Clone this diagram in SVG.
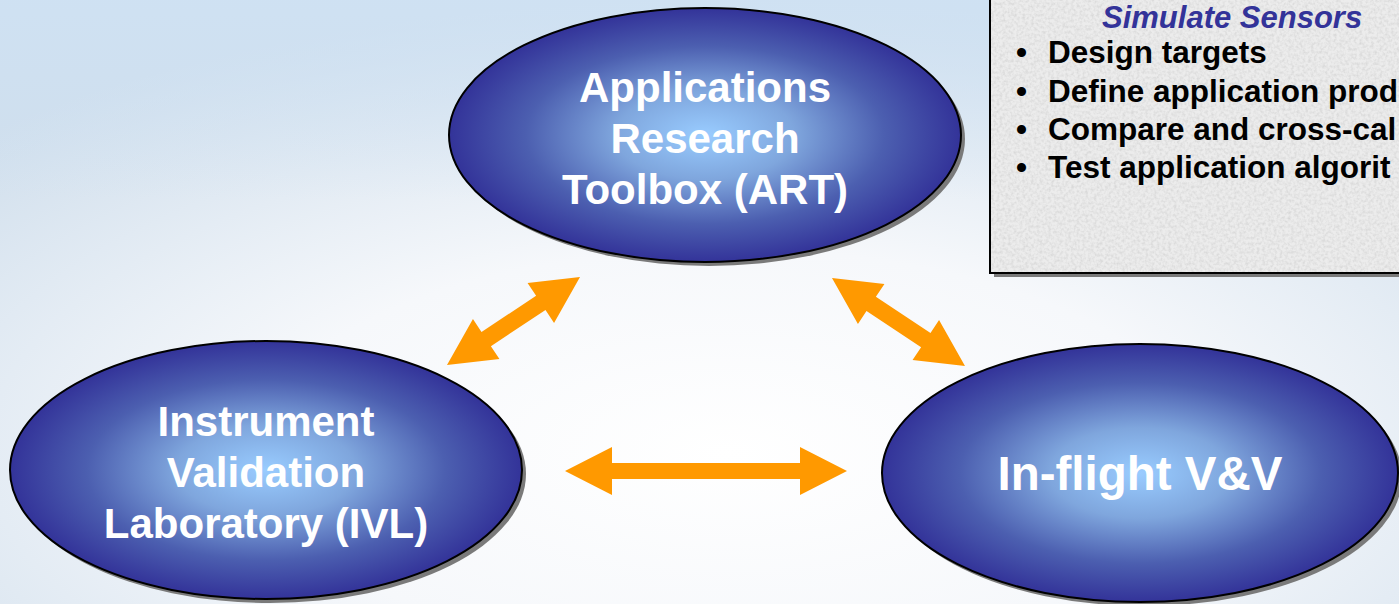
<svg xmlns="http://www.w3.org/2000/svg" width="1399" height="604" viewBox="0 0 1399 604">
<style>
.lbl{font-family:"Liberation Sans",Arial,sans-serif;font-weight:bold;fill:#ffffff;text-anchor:middle}
.bul{font-family:"Liberation Sans",Arial,sans-serif;font-weight:bold;fill:#000000;font-size:31.5px}
.ttl{font-family:"Liberation Sans",Arial,sans-serif;font-weight:bold;font-style:italic;fill:#333399;font-size:31px}
.ell{fill:url(#eg);stroke:#000;stroke-width:2}
.shd{fill:#7a7a7a}
.arr{fill:#FF9900}
</style>
<defs>
<radialGradient id="bg" cx="0.52" cy="0.75" r="0.75">
<stop offset="0" stop-color="#ffffff"/>
<stop offset="0.45" stop-color="#f6f8fb"/>
<stop offset="1" stop-color="#cfdeec"/>
</radialGradient>
<linearGradient id="topband" x1="0" y1="0" x2="0" y2="1">
<stop offset="0" stop-color="#cfe2f4" stop-opacity="0.8"/>
<stop offset="1" stop-color="#cfe2f4" stop-opacity="0"/>
</linearGradient>
<radialGradient id="eg" cx="0.5" cy="0.5" r="0.5">
<stop offset="0" stop-color="#99ccff"/>
<stop offset="0.35" stop-color="#7fa6dd"/>
<stop offset="0.7" stop-color="#4c5fb0"/>
<stop offset="1" stop-color="#333399"/>
</radialGradient>
<filter id="noise" x="0" y="0" width="1" height="1">
<feTurbulence type="fractalNoise" baseFrequency="0.35" numOctaves="2" seed="3"/>
<feColorMatrix type="matrix" values="0 0 0 0 0.55  0 0 0 0 0.55  0 0 0 0 0.55  0 0 0 1.6 -0.6"/>
<feComposite in2="SourceGraphic" operator="in"/>
</filter>
<polygon id="a160" points="0,0 47,-24 47,-8.5 112.5,-8.5 112.5,-24 159.5,0 112.5,24 112.5,8.5 47,8.5 47,24"/>
</defs>
<rect x="0" y="0" width="1399" height="604" fill="url(#bg)"/>
<rect x="0" y="0" width="1399" height="200" fill="url(#topband)"/>

<g id="box-simulate">
<rect x="994" y="-4" width="420" height="281" class="shd"/>
<rect x="990" y="-8" width="420" height="281" fill="#ececec" stroke="#000" stroke-width="2"/>
<rect x="991" y="-7" width="408" height="279" fill="#ffffff" filter="url(#noise)" opacity="0.6"/>
<text class="ttl" x="1102" y="28">Simulate Sensors</text>
<text class="bul" x="1016" y="63">•</text><text class="bul" x="1048" y="63">Design targets</text>
<text class="bul" x="1016" y="102">•</text><text class="bul" x="1048" y="102">Define application prod</text>
<text class="bul" x="1016" y="140">•</text><text class="bul" x="1048" y="140">Compare and cross-cal</text>
<text class="bul" x="1016" y="178">•</text><text class="bul" x="1048" y="178">Test application algorit</text>
</g>

<g id="node-art">
<ellipse cx="709" cy="139" rx="256" ry="127" class="shd"/>
<ellipse cx="705" cy="135" rx="256" ry="127" class="ell"/>
<text class="lbl" x="705" y="102" font-size="42">Applications</text>
<text class="lbl" x="705" y="153" font-size="42">Research</text>
<text class="lbl" x="705" y="204" font-size="42">Toolbox (ART)</text>
</g>

<g id="node-ivl">
<ellipse cx="270" cy="474" rx="256" ry="129" class="shd"/>
<ellipse cx="266" cy="470" rx="256" ry="129" class="ell"/>
<text class="lbl" x="266" y="436" font-size="42">Instrument</text>
<text class="lbl" x="266" y="487" font-size="42">Validation</text>
<text class="lbl" x="266" y="538" font-size="42">Laboratory (IVL)</text>
</g>

<g id="node-inflight">
<ellipse cx="1144" cy="477" rx="258" ry="129" class="shd"/>
<ellipse cx="1140" cy="473" rx="258" ry="129" class="ell"/>
<text class="lbl" x="1140" y="490" font-size="47.5">In-flight V&amp;V</text>
</g>

<g id="connectors">
<use href="#a160" class="arr" transform="translate(447,365) rotate(-33.5)"/>
<use href="#a160" class="arr" transform="translate(965,366) rotate(-146.5)"/>
<polygon class="arr" points="565,471 612,447 612,463 800,463 800,447 847,471 800,495 800,479 612,479 612,495"/>
</g>
</svg>
